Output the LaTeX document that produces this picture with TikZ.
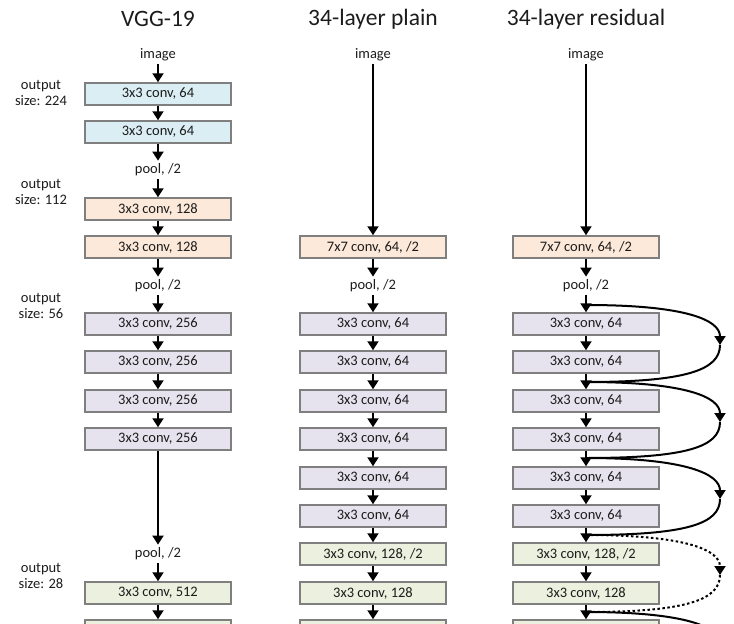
\documentclass[tikz,border=0pt]{standalone}
\usepackage{fontspec}
\setmainfont{Carlito}
\usetikzlibrary{arrows.meta}

\definecolor{convblue}{HTML}{DAEEF3}
\definecolor{convorange}{HTML}{FDE9D9}
\definecolor{convpurple}{HTML}{E7E3EE}
\definecolor{convgreen}{HTML}{EBF1DE}
\definecolor{boxline}{HTML}{7F7F7F}
\definecolor{txt}{HTML}{1C1C1C}

\begin{document}
\begin{tikzpicture}
[x=1pt, y=-1pt,
 layer/.style={rectangle, draw=boxline, line width=1.5pt, minimum width=146pt, minimum height=22pt, inner sep=0pt, text=txt, font=\fontsize{14.5}{16}\selectfont},
 blue/.style={layer, fill=convblue},
 orange/.style={layer, fill=convorange},
 purple/.style={layer, fill=convpurple},
 green/.style={layer, fill=convgreen},
 lbl/.style={text=txt, inner sep=3pt, font=\fontsize{14.5}{16}\selectfont},
 title/.style={text=txt, font=\fontsize{23.5}{26}\selectfont},
 flow/.style={-{Triangle[width=11pt,length=9pt]}, line width=2pt},
 skip/.style={line width=2pt}]

\useasboundingbox (0,0) rectangle (734,624);
\clip (0,0) rectangle (734,624);

% titles
\node[title] (t1) at (158,19) {VGG-19};
\node[title] (t2) at (373,19) {34-layer plain};
\node[title] (t3) at (586,19) {34-layer residual};

% output sizes
\node[lbl, align=center] (o1) at (41,93) {output\\size: 224};
\node[lbl, align=center] (o2) at (41,192) {output\\size: 112};
\node[lbl, align=center] (o3) at (41,306) {output\\size: 56};
\node[lbl, align=center] (o4) at (41,576) {output\\size: 28};

% VGG-19
\node[lbl] (v0) at (158,55) {image};
\node[blue] (v1) at (158,94) {3x3 conv, 64};
\node[blue] (v2) at (158,132) {3x3 conv, 64};
\node[lbl] (v3) at (158,170) {pool, /2};
\node[orange] (v4) at (158,209) {3x3 conv, 128};
\node[orange] (v5) at (158,247) {3x3 conv, 128};
\node[lbl] (v6) at (158,286) {pool, /2};
\node[purple] (v7) at (158,324) {3x3 conv, 256};
\node[purple] (v8) at (158,362) {3x3 conv, 256};
\node[purple] (v9) at (158,401) {3x3 conv, 256};
\node[purple] (v10) at (158,439) {3x3 conv, 256};
\node[lbl] (v11) at (158,554) {pool, /2};
\node[green] (v12) at (158,593) {3x3 conv, 512};
\node[green] (v13) at (158,631) {};

% 34-layer plain
\node[lbl] (p0) at (373,55) {image};
\node[orange] (p1) at (373,247) {7x7 conv, 64, /2};
\node[lbl] (p2) at (373,286) {pool, /2};
\node[purple] (p3) at (373,324) {3x3 conv, 64};
\node[purple] (p4) at (373,362) {3x3 conv, 64};
\node[purple] (p5) at (373,401) {3x3 conv, 64};
\node[purple] (p6) at (373,439) {3x3 conv, 64};
\node[purple] (p7) at (373,478) {3x3 conv, 64};
\node[purple] (p8) at (373,516) {3x3 conv, 64};
\node[green] (p9) at (373,554) {3x3 conv, 128, /2};
\node[green] (p10) at (373,593) {3x3 conv, 128};
\node[green] (p11) at (373,631) {};

% 34-layer residual
\node[lbl] (r0) at (586,55) {image};
\node[orange] (r1) at (586,247) {7x7 conv, 64, /2};
\node[lbl] (r2) at (586,286) {pool, /2};
\node[purple] (r3) at (586,324) {3x3 conv, 64};
\node[purple] (r4) at (586,362) {3x3 conv, 64};
\node[purple] (r5) at (586,401) {3x3 conv, 64};
\node[purple] (r6) at (586,439) {3x3 conv, 64};
\node[purple] (r7) at (586,478) {3x3 conv, 64};
\node[purple] (r8) at (586,516) {3x3 conv, 64};
\node[green] (r9) at (586,554) {3x3 conv, 128, /2};
\node[green] (r10) at (586,593) {3x3 conv, 128};
\node[green] (r11) at (586,631) {};

% shortcut points
\coordinate (s1) at (586,305);
\coordinate (s2) at (586,382);
\coordinate (s3) at (586,458);
\coordinate (s4) at (586,535);
\coordinate (s5) at (586,612);
\coordinate (m1) at (720,345);
\coordinate (m2) at (720,422);
\coordinate (m3) at (720,499);
\coordinate (m4) at (720,575);
\coordinate (m5) at (720,652);

\draw[flow] (v0) edge (v1);
\draw[flow] (v1) edge (v2);
\draw[flow] (v2) edge (v3);
\draw[flow] (v3) edge (v4);
\draw[flow] (v4) edge (v5);
\draw[flow] (v5) edge (v6);
\draw[flow] (v6) edge (v7);
\draw[flow] (v7) edge (v8);
\draw[flow] (v8) edge (v9);
\draw[flow] (v9) edge (v10);
\draw[flow] (v10) edge (v11);
\draw[flow] (v11) edge (v12);
\draw[flow] (v12) edge (v13);

\draw[flow] (p0) edge (p1);
\draw[flow] (p1) edge (p2);
\draw[flow] (p2) edge (p3);
\draw[flow] (p3) edge (p4);
\draw[flow] (p4) edge (p5);
\draw[flow] (p5) edge (p6);
\draw[flow] (p6) edge (p7);
\draw[flow] (p7) edge (p8);
\draw[flow] (p8) edge (p9);
\draw[flow] (p9) edge (p10);
\draw[flow] (p10) edge (p11);

\draw[flow] (r0) edge (r1);
\draw[flow] (r1) edge (r2);
\draw[flow] (r2) edge (r3);
\draw[flow] (r3) edge (r4);
\draw[flow] (r4) edge (r5);
\draw[flow] (r5) edge (r6);
\draw[flow] (r6) edge (r7);
\draw[flow] (r7) edge (r8);
\draw[flow] (r8) edge (r9);
\draw[flow] (r9) edge (r10);
\draw[flow] (r10) edge (r11);

% shortcuts
\draw[flow] (s1) .. controls +(100,0) and +(0,-25) .. (m1);
\draw[skip] (m1) .. controls +(0,25) and +(100,0) .. (s2);
\draw[flow] (s2) .. controls +(100,0) and +(0,-25) .. (m2);
\draw[skip] (m2) .. controls +(0,25) and +(100,0) .. (s3);
\draw[flow] (s3) .. controls +(100,0) and +(0,-25) .. (m3);
\draw[skip] (m3) .. controls +(0,25) and +(100,0) .. (s4);
\draw[flow, dash pattern=on 2.5pt off 2.5pt] (s4) .. controls +(100,0) and +(0,-25) .. (m4);
\draw[skip, dash pattern=on 2.5pt off 2.5pt] (m4) .. controls +(0,25) and +(100,0) .. (s5);
\draw[flow] (s5) .. controls +(100,0) and +(0,-25) .. (m5);
\end{tikzpicture}
\end{document}
